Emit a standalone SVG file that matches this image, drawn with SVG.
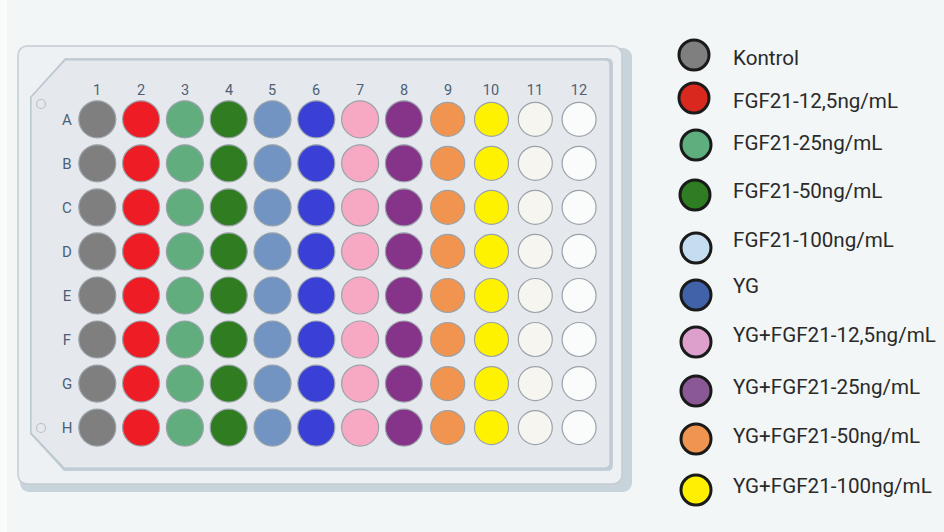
<svg xmlns="http://www.w3.org/2000/svg" width="944" height="532" viewBox="0 0 944 532">
<defs>
<style>
.lbl{font-family:Roboto,"Liberation Sans",sans-serif;font-size:14.5px;font-weight:400;fill:#4d6075;text-anchor:middle}
.row{font-size:15px}
.leg{font-family:Roboto,"Liberation Sans",sans-serif;font-size:20.6px;font-weight:400;fill:#2a2a2a}
.w{stroke:#9aa3aa;stroke-width:1.2}
.lc{stroke:#1a1a1a;stroke-width:3}
</style>
<g id="row">
<circle class="w" cx="97.3" cy="0" r="18.5" fill="#7f7f7f"/>
<circle class="w" cx="141.1" cy="0" r="18.5" fill="#ee1c25"/>
<circle class="w" cx="184.9" cy="0" r="18.5" fill="#61ad7e"/>
<circle class="w" cx="228.7" cy="0" r="18.5" fill="#2f7d20"/>
<circle class="w" cx="272.5" cy="0" r="18.5" fill="#7294c3"/>
<circle class="w" cx="316.3" cy="0" r="18.5" fill="#3a40d6"/>
<circle class="w" cx="360.1" cy="0" r="18.5" fill="#f7a9c4"/>
<circle class="w" cx="403.9" cy="0" r="18.5" fill="#86348a"/>
<circle class="w" cx="447.7" cy="0" r="17" fill="#f0944f" stroke="#8a8f95"/>
<circle class="w" cx="491.5" cy="0" r="17" fill="#fff200" stroke="#7d8790"/>
<circle class="w" cx="535.3" cy="0" r="17" fill="#f7f5ef" stroke="#7d8790"/>
<circle class="w" cx="579.1" cy="0" r="17" fill="#fafbfb" stroke="#7d8790"/>
</g>
</defs>
<rect width="944" height="532" fill="#f2f6f6"/>
<rect width="7" height="532" fill="#fafcfc"/>
<g id="plate">
<rect x="20" y="48" width="612" height="444" rx="9" fill="#c9d3da"/>
<rect x="18" y="46" width="604" height="438" rx="9" fill="#eef1f4" stroke="#c4cdd4" stroke-width="1.5"/>
<path d="M65,58 H607 Q613,58 613,64 V465 Q613,471 607,471 H64 L30,434 V97 Z" fill="#c3ced6"/>
<path d="M65,60 H605 Q610,60 610,65 V463 Q610,468 605,468 H64 L31,433 V97 Z" fill="#e5e9ee" stroke="#b9c5cd" stroke-width="1.2"/>
<circle cx="41" cy="104" r="4.5" fill="none" stroke="#b9c2c9" stroke-width="1.2"/>
<circle cx="41" cy="428" r="4.5" fill="none" stroke="#b9c2c9" stroke-width="1.2"/>
</g>
<g id="col-labels">
<text class="lbl" x="97" y="95">1</text>
<text class="lbl" x="141" y="95">2</text>
<text class="lbl" x="185" y="95">3</text>
<text class="lbl" x="229" y="95">4</text>
<text class="lbl" x="272" y="95">5</text>
<text class="lbl" x="316" y="95">6</text>
<text class="lbl" x="360" y="95">7</text>
<text class="lbl" x="404" y="95">8</text>
<text class="lbl" x="448" y="95">9</text>
<text class="lbl" x="491" y="95">10</text>
<text class="lbl" x="535" y="95">11</text>
<text class="lbl" x="579" y="95">12</text>
</g>
<g id="row-labels">
<text class="lbl row" x="67" y="125">A</text>
<text class="lbl row" x="67" y="169">B</text>
<text class="lbl row" x="67" y="213">C</text>
<text class="lbl row" x="67" y="257">D</text>
<text class="lbl row" x="67" y="301">E</text>
<text class="lbl row" x="67" y="345">F</text>
<text class="lbl row" x="67" y="389">G</text>
<text class="lbl row" x="67" y="433">H</text>
</g>
<g id="wells">
<use href="#row" y="119.3"/>
<use href="#row" y="163.3"/>
<use href="#row" y="207.4"/>
<use href="#row" y="251.4"/>
<use href="#row" y="295.5"/>
<use href="#row" y="339.5"/>
<use href="#row" y="383.6"/>
<use href="#row" y="427.6"/>
</g>
<g id="legend">
<g id="leg-kontrol"><circle class="lc" cx="694" cy="55" r="15" fill="#7f7f7f"/><text class="leg" x="733" y="65">Kontrol</text></g>
<g id="leg-fgf12"><circle class="lc" cx="694" cy="98" r="15" fill="#d9291f" stroke="#6b1010"/><text class="leg" x="733" y="108">FGF21-12,5ng/mL</text></g>
<g id="leg-fgf25"><circle class="lc" cx="696" cy="145" r="15" fill="#5fae7e"/><text class="leg" x="733" y="150">FGF21-25ng/mL</text></g>
<g id="leg-fgf50"><circle class="lc" cx="695" cy="195" r="15" fill="#2e7d22"/><text class="leg" x="733" y="198">FGF21-50ng/mL</text></g>
<g id="leg-fgf100"><circle class="lc" cx="696" cy="248" r="15" fill="#c5dcf1"/><text class="leg" x="733" y="247">FGF21-100ng/mL</text></g>
<g id="leg-yg"><circle class="lc" cx="696" cy="295" r="15" fill="#3f62a9"/><text class="leg" x="733" y="293">YG</text></g>
<g id="leg-yg12"><circle class="lc" cx="696" cy="342" r="15" fill="#dda0cd"/><text class="leg" x="733" y="342">YG+FGF21-12,5ng/mL</text></g>
<g id="leg-yg25"><circle class="lc" cx="696" cy="391" r="15" fill="#8a5894"/><text class="leg" x="733" y="394">YG+FGF21-25ng/mL</text></g>
<g id="leg-yg50"><circle class="lc" cx="696" cy="439" r="15" fill="#f0954f"/><text class="leg" x="733" y="443">YG+FGF21-50ng/mL</text></g>
<g id="leg-yg100"><circle class="lc" cx="696" cy="490" r="15" fill="#ffef00"/><text class="leg" x="733" y="493">YG+FGF21-100ng/mL</text></g>
</g>
</svg>
